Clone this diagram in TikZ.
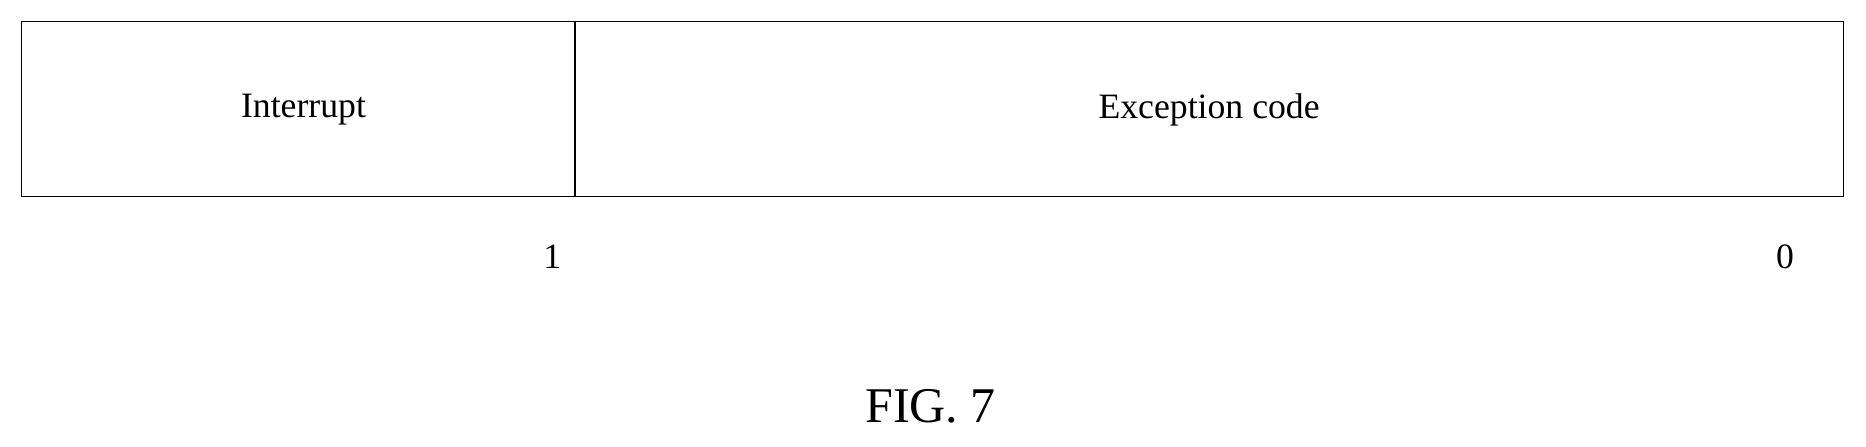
\documentclass[tikz,border=0pt]{standalone}
\usepackage{fontspec}
\setmainfont{Liberation Serif}
\begin{document}
\begin{tikzpicture}[x=1pt,y=-1pt,
  lbl/.style={font=\fontsize{30}{36}\selectfont, inner sep=0pt},
  box/.style={draw, line width=1.2pt}]
\useasboundingbox (0,0) rectangle (1568,375);
\draw[box] (18,18) rectangle (1549,165);
\draw[line width=1.2pt] (483,18) coordinate (dt) -- (483,165) coordinate (db);
\node[lbl] (int) at (255,92) {Interrupt};
\node[lbl] (exc) at (1016,92) {Exception code};
\node[lbl] (one) at (464,216) {1};
\node[lbl] (zero) at (1500,216) {0};
\node[font=\fontsize{42}{50}\selectfont, inner sep=0pt] (fig) at (782,341) {FIG. 7};
\end{tikzpicture}
\end{document}
